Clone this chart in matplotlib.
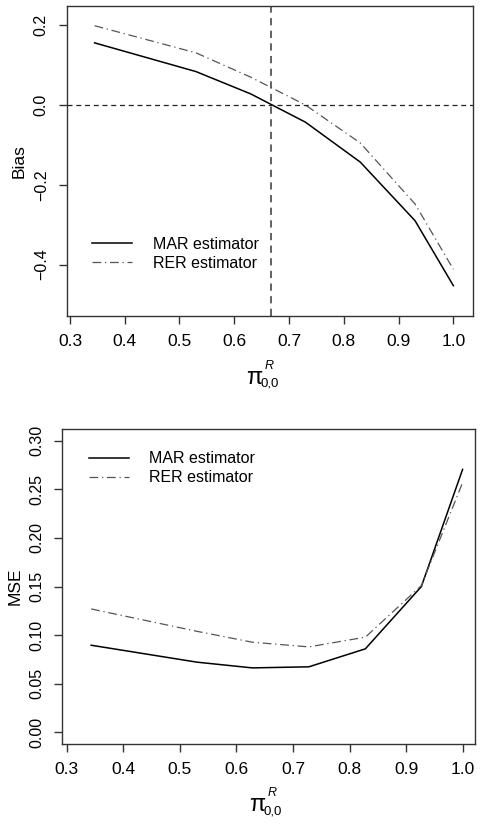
import matplotlib
matplotlib.use("Agg")
import matplotlib.pyplot as plt

plt.rcParams['font.family'] = ['Liberation Sans', 'DejaVu Sans']

# values
x_bias = [0.345, 0.53, 0.63, 0.73, 0.83, 0.93, 1.0]
bias_mar = [0.156, 0.084, 0.028, -0.043, -0.143, -0.290, -0.453]
bias_rer = [0.199, 0.131, 0.070, 0.0, -0.095, -0.248, -0.412]
pi_cut = 2 / 3

x_mse = [0.343, 0.53, 0.628, 0.728, 0.828, 0.927, 1.0]
mse_mar = [0.0897, 0.0723, 0.0664, 0.0675, 0.086, 0.150, 0.2705]
mse_rer = [0.127, 0.104, 0.0928, 0.088, 0.098, 0.151, 0.257]

x_ticks = [0.3, 0.4, 0.5, 0.6, 0.7, 0.8, 0.9, 1.0]
bias_ticks = [-0.4, -0.2, 0.0, 0.2]
mse_ticks = [0.0, 0.05, 0.10, 0.15, 0.20, 0.25, 0.30]

W, H = 485, 825
fs = 11.5

fig = plt.figure(figsize=(W / 100, H / 100), dpi=100)
ax1 = fig.add_axes([0.138, 0.617, 0.838, 0.376])
ax2 = fig.add_axes([0.1285, 0.098, 0.851, 0.382])


def style(ax):
    for s in ax.spines.values():
        s.set_color('#333333')
        s.set_linewidth(1.0)
    ax.tick_params(direction='out', length=6, width=1.0, color='#333333', pad=7)
    ax.tick_params(axis='x', labelsize=12.5)
    ax.tick_params(axis='y', labelsize=11.5)
    for lab in ax.get_yticklabels():
        lab.set_rotation(90)
        lab.set_va('center')


def pi_label(px, py):
    # pi with subscript 0,0 and superscript R, placed in pixel coords
    fig.text(px / W, 1 - py / H, '\u03c0', fontsize=17, ha='center', va='center')
    fig.text((px + 7) / W, 1 - (py + 6) / H, '0,0', fontsize=9.5, ha='left', va='center')
    fig.text((px + 11) / W, 1 - (py - 12) / H, 'R', fontsize=9, style='italic',
             ha='left', va='center')


# top panel: bias
ax1.plot(x_bias, bias_mar, color='black', lw=1.1, ls='-', label='MAR estimator')
ax1.plot(x_bias, bias_rer, color='#555555', lw=0.9, ls=(0, (7, 3, 1, 3)),
         label='RER estimator')
ax1.axhline(0, color='#222222', lw=0.9, ls=(0, (4, 3)))
ax1.axvline(pi_cut, color='#555555', lw=1.3, ls=(0, (4, 3)))
ax1.set_xlim(0.2945, 1.0365)
ax1.set_ylim(-0.529, 0.249)
ax1.set_xticks(x_ticks)
ax1.set_xticklabels([f'{v:.1f}' for v in x_ticks])
ax1.set_yticks(bias_ticks)
ax1.set_yticklabels([f'{v:.1f}'.replace('-', '\u2212') for v in bias_ticks])
ax1.set_ylabel('Bias', fontsize=12.5, labelpad=5)
style(ax1)
ax1.legend(loc='lower left', bbox_to_anchor=(0.027, 0.1), frameon=False,
           fontsize=fs, handlelength=2.5, handletextpad=1.3, labelspacing=0.25)
pi_label(254, 378)

# bottom panel: MSE
ax2.plot(x_mse, mse_mar, color='black', lw=1.1, ls='-', label='MAR estimator')
ax2.plot(x_mse, mse_rer, color='#555555', lw=0.9, ls=(0, (7, 3, 1, 3)),
         label='RER estimator')
ax2.set_xlim(0.292, 1.022)
ax2.set_ylim(-0.012, 0.312)
ax2.set_xticks(x_ticks)
ax2.set_xticklabels([f'{v:.1f}' for v in x_ticks])
ax2.set_yticks(mse_ticks)
ax2.set_yticklabels([f'{v:.2f}' for v in mse_ticks])
ax2.set_ylabel('MSE', fontsize=12.5, labelpad=5)
style(ax2)
ax2.legend(loc='upper left', bbox_to_anchor=(0.029, 0.975), frameon=False,
           fontsize=fs, handlelength=2.5, handletextpad=1.3, labelspacing=0.25)
pi_label(257, 805)

fig.savefig('out.png', dpi=100)
